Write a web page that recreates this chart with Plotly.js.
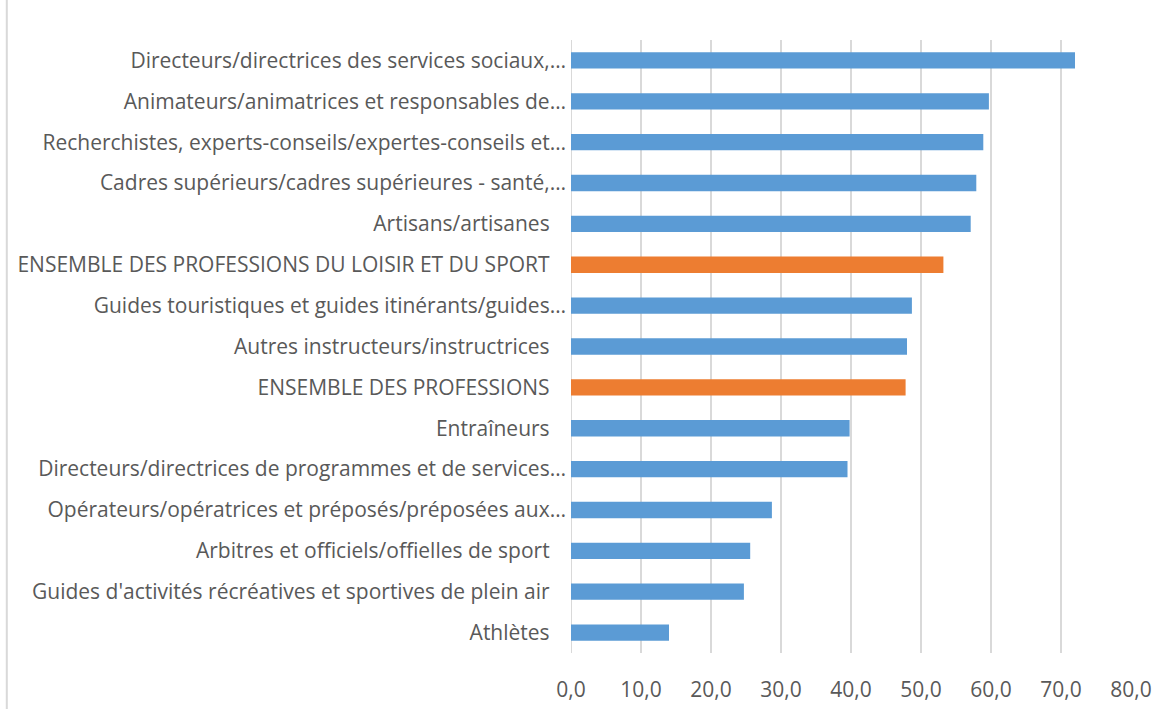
<!DOCTYPE html>
<html>
<head>
<meta charset="utf-8">
<script src="https://cdn.plot.ly/plotly-3.0.1.min.js"></script>
<style>html,body{margin:0;padding:0;background:#fff;}#chart{width:1174px;height:709px;}</style>
</head>
<body>
<div id="chart"></div>
<script>
// Categories, top to bottom as shown
const categories = [
  "Directeurs/directrices des services sociaux,…",
  "Animateurs/animatrices et responsables de…",
  "Recherchistes, experts-conseils/expertes-conseils et…",
  "Cadres supérieurs/cadres supérieures - santé,…",
  "Artisans/artisanes",
  "ENSEMBLE DES PROFESSIONS DU LOISIR ET DU SPORT",
  "Guides touristiques et guides itinérants/guides…",
  "Autres instructeurs/instructrices",
  "ENSEMBLE DES PROFESSIONS",
  "Entraîneurs",
  "Directeurs/directrices de programmes et de services…",
  "Opérateurs/opératrices et préposés/préposées aux…",
  "Arbitres et officiels/offielles de sport",
  "Guides d'activités récréatives et sportives de plein air",
  "Athlètes"
];
const values = [72.0, 59.7, 58.9, 57.9, 57.1, 53.2, 48.7, 48.0, 47.8, 39.8, 39.5, 28.7, 25.6, 24.7, 14.0];
const isTotal = [false, false, false, false, false, true, false, false, true, false, false, false, false, false, false];
const xTickValues = [0, 10, 20, 30, 40, 50, 60, 70, 80];
const xTickLabels = ["0,0", "10,0", "20,0", "30,0", "40,0", "50,0", "60,0", "70,0", "80,0"];

const BLUE = "#5B9BD5", ORANGE = "#ED7D31";
const colors = isTotal.map(t => t ? ORANGE : BLUE);
// truncated labels end further right than full labels (Excel style); pad full labels
const tickText = categories.map(c => c.endsWith("…") ? c : c + "\u00a0\u00a0\u00a0");

const trace = {
  type: "bar",
  orientation: "h",
  y: categories,
  x: values,
  marker: {color: colors, line: {width: 0}},
  hoverinfo: "x+y"
};

const FONT = "Open Sans, sans-serif";
const layout = {
  width: 1174, height: 709,
  margin: {l: 571, r: 43, t: 40, b: 56, pad: 0},
  paper_bgcolor: "#ffffff", plot_bgcolor: "#ffffff",
  font: {family: FONT, size: 21, color: "#595959"},
  bargap: 0.6,
  showlegend: false,
  xaxis: {
    range: [0, 80], tickvals: xTickValues, ticktext: xTickLabels,
    showgrid: true, gridcolor: "#d9d9d9", gridwidth: 2,
    zeroline: false, showline: false, ticks: "",
    ticklabelstandoff: 22,
    tickfont: {family: FONT, size: 21, color: "#595959"},
    fixedrange: true
  },
  yaxis: {
    type: "category", autorange: "reversed",
    tickvals: categories, ticktext: tickText,
    showgrid: false, zeroline: false, showline: false, ticks: "",
    ticklabelstandoff: 4,
    tickfont: {family: FONT, size: 21, color: "#595959"},
    fixedrange: true
  },
  shapes: [
    {type: "line", xref: "x", yref: "paper", x0: 0, x1: 0, y0: 0, y1: 1,
     line: {color: "#d9d9d9", width: 2}, layer: "below"},
    {type: "line", xref: "paper", yref: "paper", x0: -1.0075, x1: -1.0075, y0: -0.1, y1: 1.1,
     line: {color: "#d9d9d9", width: 2}}
  ]
};

Plotly.newPlot("chart", [trace], layout, {displayModeBar: false, staticPlot: true});
</script>
</body>
</html>
